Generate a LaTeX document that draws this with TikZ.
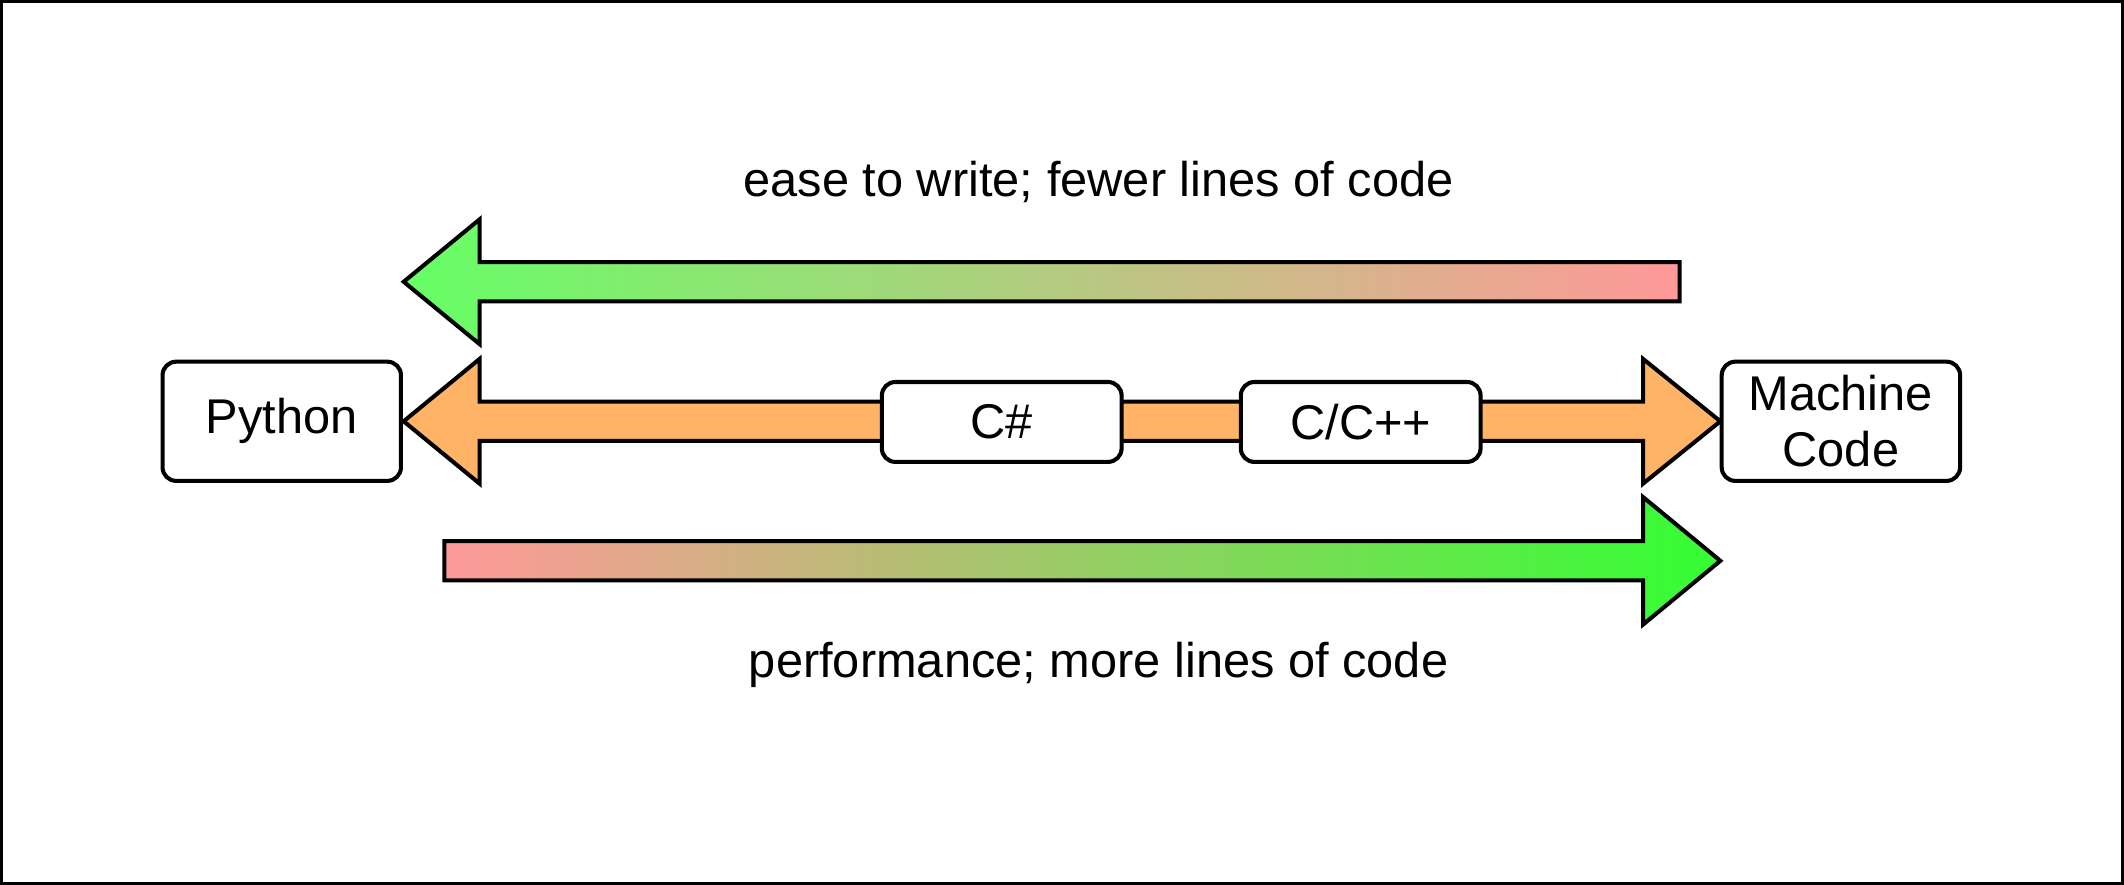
\documentclass[tikz,border=0pt]{standalone}
\usepackage{fontspec}
\setmainfont{Liberation Sans}
\definecolor{pinkc}{HTML}{FF9999}
\definecolor{greenA}{HTML}{66FF66}
\definecolor{greenB}{HTML}{33FF33}
\definecolor{orangec}{HTML}{FFB366}
\tikzset{
  box/.style={draw=black, fill=white, line width=1.5pt, rounded corners=5pt, align=center, inner sep=0pt},
  arrowshape/.style={draw=black, line width=1.5pt, line join=miter},
  lbl/.style={font=\fontsize{18}{20.5}\selectfont},
}
\begin{document}
\begin{tikzpicture}[x=0.5pt, y=-0.5pt]
\useasboundingbox (0,0) rectangle (1568,653);
\draw[line width=1pt] (1,1) rectangle (1567,652);

% labels
\node[lbl] (toptext) at (811,134) {ease to write; fewer lines of code};
\node[lbl] (bottext) at (811,491) {performance; more lines of code};

% top gradient arrow (pointing left)
\path[arrowshape, left color=greenA, right color=pinkc]
  (298,208) -- (354,162) -- (354,193.5) -- (1240,193.5) -- (1240,222.5) -- (354,222.5) -- (354,254) -- cycle;

% bottom gradient arrow (pointing right)
\path[arrowshape, left color=pinkc, right color=greenB]
  (328,399.5) -- (1213,399.5) -- (1213,367) -- (1270,414) -- (1213,461) -- (1213,428.5) -- (328,428.5) -- cycle;

% orange double arrow
\path[arrowshape, fill=orangec]
  (298,311) -- (354,265) -- (354,296.5) -- (1213,296.5) -- (1213,265) -- (1270,311) -- (1213,357) -- (1213,325.5) -- (354,325.5) -- (354,357) -- cycle;

% boxes
\node[box, lbl, minimum width=88pt, minimum height=44pt] (python) at (208,311) {Python};
\node[box, lbl, minimum width=88.5pt, minimum height=29.5pt] (csharp) at (739.5,311.5) {C\#};
\node[box, lbl, minimum width=88.5pt, minimum height=29.5pt] (cpp) at (1004.5,311.5) {C/C++};
\node[box, lbl, minimum width=88pt, minimum height=44pt] (machine) at (1359,311) {Machine\\Code};
\end{tikzpicture}
\end{document}
